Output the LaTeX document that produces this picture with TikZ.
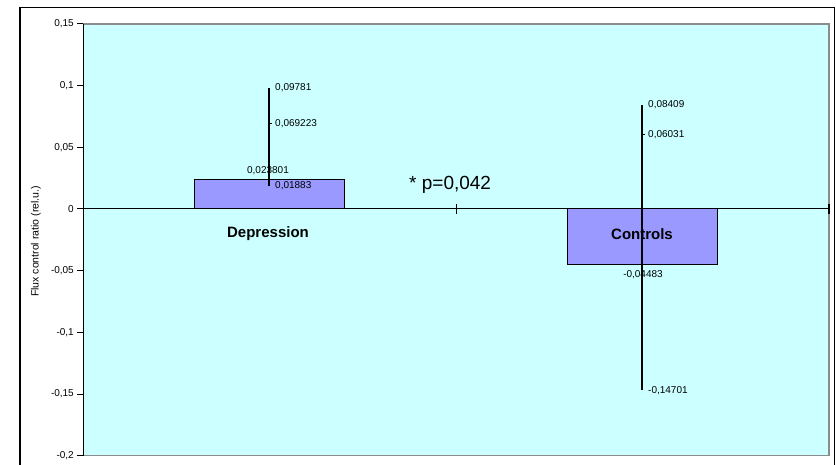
\documentclass[tikz,border=0pt]{standalone}
\usepackage{fontspec}
\setmainfont{Liberation Sans}
\definecolor{plotbg}{HTML}{CCFFFF}
\definecolor{barfill}{HTML}{9999FF}
\definecolor{plotframe}{HTML}{8C8C8C}
\begin{document}
\begin{tikzpicture}[x=1pt,y=-1pt,
  axisline/.style={black, line width=1pt},
  errline/.style={black, line width=1.1pt},
  barbox/.style={draw=black, line width=1pt, fill=barfill, inner sep=0pt, outer sep=0pt},
  ticklab/.style={font=\fontsize{10}{11}\selectfont, anchor=east, inner sep=0pt},
  datalab/.style={font=\fontsize{10}{11}\selectfont, inner sep=0pt},
  catlab/.style={font=\fontsize{15}{16}\selectfont\bfseries, inner sep=0pt},
  plab/.style={font=\fontsize{19}{20}\selectfont, inner sep=0pt}]
\useasboundingbox (0,0) rectangle (836,465);
\fill[white] (0,0) rectangle (836,465);
% outer frame
\draw[black, line width=1.4pt] (20,470) -- (20,7.5) -- (834.5,7.5) -- (834.5,470);
% plot area
\fill[plotbg] (83,24) rectangle (829,455.5);
\draw[plotframe, line width=1.3pt] (83,24) -- (829,24) -- (829,455.5) -- (83,455.5);
% y axis
\draw[axisline] (83,24) -- (83,455.5);
\foreach \yy/\lab in {24/{0,15},86/{0,1},147.3/{0,05},209/{0},270.7/{-0,05},332.4/{-0,1},394.1/{-0,15},455.5/{-0,2}}{
  \draw[axisline] (77,\yy) -- (83,\yy);
  \node[ticklab] at (74,\yy) {\lab};
}
\node[font=\fontsize{10.5}{11}\selectfont, rotate=90, inner sep=0pt] (ytitle) at (36,241.5) {Flux control ratio (rel.u.)};
% bars
\node[barbox, minimum width=150pt, minimum height=29.4pt, anchor=south west] (dep) at (194,209) {};
\node[barbox, minimum width=150pt, minimum height=55.3pt, anchor=north west] (con) at (567,209) {};
% x axis
\draw[axisline] (83,209) -- (829,209);
\draw[axisline] (456,204) -- (456,214);
\draw[axisline, line width=1.6pt] (829,204) -- (829,214);
% category labels
\node[catlab] (deplab) at (268,234) {Depression};
\node[catlab] (conlab) at (642,234) {Controls};
% error bars
\coordinate (dtop) at (269,88.3);
\coordinate (dbot) at (269,185.8);
\coordinate (dmid) at (269,123.6);
\coordinate (ctop) at (642,105.2);
\coordinate (cbot) at (642,390.4);
\coordinate (cmid) at (642,134.6);
\draw[errline] (dtop) -- (dbot);
\draw[errline] (dmid) -- ++(2.5,0);
\draw[errline] (ctop) -- (cbot);
\draw[errline] (cmid) -- ++(2.5,0);
% data labels
\node[datalab, anchor=west] (l1) at (275,88) {0,09781};
\node[datalab, anchor=west] (l2) at (275,124) {0,069223};
\node[datalab] (l3) at (268,171) {0,023801};
\node[datalab, anchor=west] (l4) at (275,186) {0,01883};
\node[datalab, anchor=west] (l5) at (648,105) {0,08409};
\node[datalab, anchor=west] (l6) at (648,135) {0,06031};
\node[datalab] (l7) at (643,275) {-0,04483};
\node[datalab, anchor=west] (l8) at (648,390.5) {-0,14701};
% significance
\node[plab, anchor=west] (pval) at (409,184.5) {* p=0,042};
\end{tikzpicture}
\end{document}
